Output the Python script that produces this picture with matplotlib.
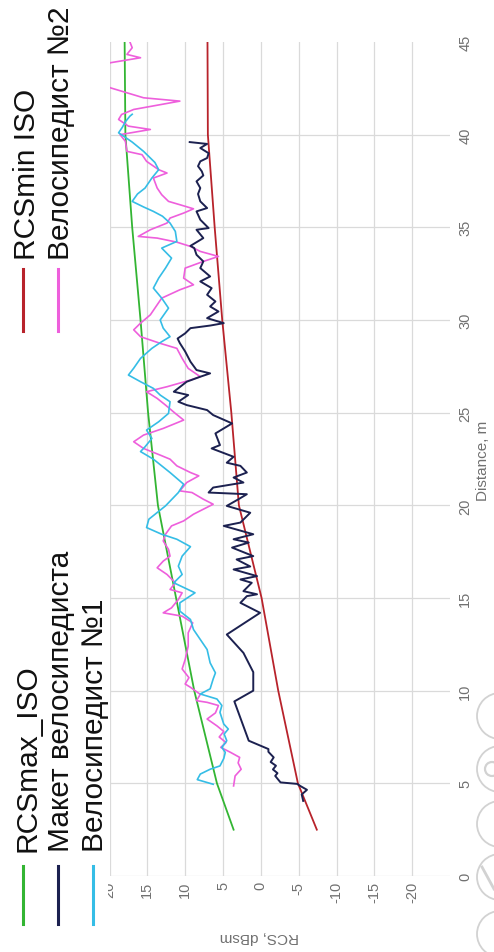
import matplotlib
matplotlib.use("Agg")
import matplotlib.pyplot as plt
from matplotlib.lines import Line2D
from matplotlib.patches import Circle
from matplotlib.transforms import Bbox, IdentityTransform

plt.rcParams['font.family'] = ['Liberation Sans', 'DejaVu Sans']

# ---------------------------------------------------------------- data
iso_dist = [2.5, 5, 10, 15, 20, 25, 30, 35, 40, 45]
rcs_max_iso = [3.6, 5.8, 8.8, 11.2, 13.6, 14.9, 15.9, 17.0, 17.9, 18.0]
rcs_min_iso = [-7.4, -4.9, -2.3, -0.1, 2.9, 3.9, 5.1, 6.1, 7.0, 7.05]

maket_dist = [4.05, 4.4, 4.65, 4.86, 4.97, 5.05, 5.4, 5.55, 5.75, 5.95, 6.15, 6.4,
              6.7, 6.85, 7.3, 9.42, 10.0, 11.0, 12.04, 13.03, 14.2, 14.74, 15.1,
              15.2, 15.37, 15.82, 16.0, 16.18, 16.54, 16.7, 17.08, 17.26, 17.72,
              17.99, 18.17, 18.44, 18.89, 19.07, 19.6, 19.97, 20.33, 20.6, 20.69,
              20.96, 21.23, 21.5, 21.77, 22.13, 22.3, 22.62, 23.07, 23.25, 23.88,
              24.42, 24.87, 25.14, 25.41, 25.59, 25.95, 26.13, 26.67, 26.94,
              27.12, 27.3, 27.75, 28.3, 28.75, 29.0, 29.28, 29.56, 29.7, 29.83,
              30.1, 30.46, 30.73, 31.0, 31.36, 31.72, 32.08, 32.35, 32.8, 33.16,
              33.52, 33.88, 34.0, 34.42, 34.87, 34.96, 35.41, 35.86, 36.04, 36.4,
              36.8, 37.12, 37.48, 37.8, 38.02, 38.3, 38.56, 38.74, 39.0, 39.28,
              39.5, 39.6]
maket_rcs = [-5.6, -5.4, -6.1, -5.2, -4.8, -2.6, -1.9, -2.2, -1.6, -2.0, -1.3, -1.7,
             -1.0, -1.0, 1.6, 3.5, 1.0, 1.0, 2.3, 4.5, 0.1, 2.7, 1.85,
             0.5, 2.3, 1.2, 2.7, 0.5, 3.6, 1.4, 3.2, 1.0, 3.8,
             1.6, 3.6, 1.0, 4.9, 2.7, 1.4, 4.5, 2.95, 1.85, 6.9,
             6.3, 2.3, 3.6, 1.85, 2.7, 4.5, 3.6, 6.5, 5.4, 6.0,
             3.8, 6.3, 7.1, 9.8, 10.9, 9.6, 11.5, 9.8, 8.0,
             6.7, 8.5, 9.3, 10.0, 10.7, 11.0, 10.0, 9.3, 6.7, 4.9,
             7.1, 5.6, 6.7, 6.0, 7.1, 6.5, 8.0, 6.7, 8.0, 7.6,
             8.5, 8.8, 9.3, 7.6, 8.5, 6.9, 8.0, 8.5, 7.1, 8.0,
             8.3, 8.0, 8.5, 7.6, 7.8, 8.3, 8.0, 7.1, 6.9, 8.0,
             7.1, 9.4]

cyclist1_dist = [4.95, 5.2, 5.5, 5.76, 5.94, 6.34, 6.67, 6.94, 7.3, 7.66, 7.93, 8.2,
                 8.83, 9.2, 9.55, 9.82, 10.1, 10.63, 10.96, 11.5, 12.22, 12.76,
                 13.3, 13.84, 14.29, 14.74, 15.28, 15.82, 16.27, 16.72, 17.26,
                 17.77, 18.17, 18.44, 18.8, 19.25, 19.97, 20.69, 21.14, 21.77,
                 22.49, 22.9, 23.16, 23.61, 24.06, 24.51, 24.96, 25.59, 25.95,
                 26.31, 26.67, 27.03, 27.4, 27.93, 28.47, 28.83, 29.1, 29.56,
                 30.0, 30.64, 31.18, 31.72, 32.26, 32.8, 33.34, 33.88, 34.24,
                 34.78, 35.23, 35.6, 35.86, 36.1, 36.4, 36.8, 37.12, 37.66,
                 38.11, 38.5, 39.1, 39.6, 39.91, 40.1, 40.4, 40.7, 41.0, 41.1]
cyclist1_rcs = [6.3, 8.4, 8.0, 6.7, 5.4, 4.9, 4.7, 5.15, 4.5, 4.85, 4.3, 4.9,
                5.4, 5.15, 5.8, 8.0, 6.7, 6.3, 6.0, 6.7, 7.1, 8.0,
                8.9, 9.3, 10.7, 10.7, 8.7, 11.5, 10.4, 10.9, 10.4,
                9.3, 11.1, 13.1, 15.1, 14.8, 12.6, 10.9, 10.2, 12.0,
                14.2, 15.9, 15.3, 14.4, 15.1, 13.5, 12.2, 12.0, 13.3,
                14.2, 15.9, 17.5, 16.8, 15.9, 14.4, 13.1, 12.0, 12.9,
                13.3, 12.2, 13.1, 14.2, 13.5, 12.6, 11.8, 13.1, 11.1,
                11.3, 12.0, 13.0, 14.2, 15.5, 17.0, 16.3, 15.3, 14.4,
                13.5, 14.0, 15.5, 17.0, 18.1, 18.8, 18.3, 17.9, 17.3, 17.0]

cyclist2_dist = [4.86, 5.4, 5.76, 6.1, 6.4, 6.67, 6.94, 7.2, 7.5, 7.8, 8.1, 8.47,
                 8.8, 9.2, 9.37, 9.46, 9.8, 10.18, 10.36, 10.7, 11.17, 11.68,
                 12.4, 13.12, 13.66, 14.02, 14.2, 14.47, 14.92, 15.28, 15.46,
                 15.82, 16.27, 16.63, 16.99, 17.26, 17.62, 18.08, 18.44, 18.89,
                 19.16, 19.52, 19.79, 20.06, 20.33, 20.69, 20.78, 21.23, 21.59,
                 21.77, 22.13, 22.49, 22.71, 23.07, 23.43, 23.79, 24.15, 24.6,
                 24.96, 25.41, 25.77, 26.13, 26.4, 26.76, 26.94, 27.39, 27.93,
                 28.47, 28.74, 29.1, 29.47, 29.83, 30.28, 30.82, 31.18, 31.63,
                 31.9, 32.26, 32.8, 33.16, 33.43, 33.7, 33.97, 34.2, 34.42,
                 34.51, 34.87, 35.23, 35.5, 35.77, 36.0, 36.22, 36.4, 36.76,
                 37.12, 37.66, 37.93, 38.11, 38.56, 38.92, 39.1, 39.64, 40.0,
                 40.28, 40.46, 40.82, 41.09, 41.36, 41.81, 41.99, 42.53, 42.9,
                 43.5, 43.88, 44.15, 44.33, 44.69, 45.0]
cyclist2_rcs = [3.6, 3.4, 2.6, 3.0, 2.8, 4.0, 5.3, 4.6, 5.5, 4.9, 5.8, 7.1,
                6.0, 5.6, 7.1, 8.5, 8.0, 9.3, 10.0, 9.5, 10.4, 10.0,
                9.6, 9.6, 9.0, 10.4, 12.9, 11.8, 10.9, 10.4, 12.0,
                11.3, 12.4, 13.7, 12.9, 12.0, 12.2, 12.9, 12.6, 11.8,
                10.2, 8.9, 7.6, 6.3, 7.6, 9.1, 10.7, 9.8, 8.2,
                9.3, 11.1, 12.0, 13.3, 15.5, 16.8, 15.5, 12.9, 10.2,
                11.3, 12.6, 13.7, 15.1, 12.4, 9.3, 8.0, 9.6, 10.4,
                11.1, 13.3, 15.9, 16.8, 15.9, 14.6, 13.7, 13.1, 10.7,
                8.9, 10.2, 10.0, 7.6, 5.6, 8.0, 9.3, 11.1, 13.7,
                16.2, 14.6, 12.4, 12.0, 10.2, 8.9, 10.7, 12.2, 13.1,
                13.7, 14.2, 12.4, 13.5, 15.1, 15.7, 17.7, 17.9, 18.6,
                14.6, 17.5, 18.8, 18.4, 16.8, 10.7, 15.5, 19.9, 21.5,
                21.2, 19.9, 15.9, 17.7, 17.0, 17.3]

rcs_ticks = [20, 15, 10, 5, 0, -5, -10, -15, -20]
dist_ticks = [0, 5, 10, 15, 20, 25, 30, 35, 40, 45]

labels = ["RCSmax_ISO", "RCSmin ISO", "Макет велосипедиста",
          "Велосипедист №1", "Велосипедист №2"]
colors = {"max": "#33b533", "min": "#b8232b", "maket": "#1c2150",
          "c1": "#35bde6", "c2": "#ee5fdc"}

# ---------------------------------------------------------------- figure
W, H = 494, 953
fig = plt.figure(figsize=(W / 100, H / 100), dpi=100)
fig.patch.set_facecolor("white")


def fx(px):
    return px / W


def fy(py):
    return 1 - py / H


ax_left, ax_right, ax_top, ax_bottom = 109.5, 450, 43, 877
ax = fig.add_axes([fx(ax_left), fy(ax_bottom),
                   fx(ax_right - ax_left), (ax_bottom - ax_top) / H])

# RCS runs along the horizontal axis (larger values to the left),
# distance runs upward.
ax.plot(rcs_max_iso, iso_dist, color=colors["max"], lw=1.3, zorder=3)
ax.plot(rcs_min_iso, iso_dist, color=colors["min"], lw=1.3, zorder=3)
ax.plot(cyclist2_rcs, cyclist2_dist, color=colors["c2"], lw=1.2, zorder=4)
ax.plot(cyclist1_rcs, cyclist1_dist, color=colors["c1"], lw=1.2, zorder=5)
ax.plot(maket_rcs, maket_dist, color=colors["maket"], lw=1.4, zorder=6)

ax.set_xlim(20.0, -25.0)
ax.set_ylim(0, 45)
ax.set_xticks(rcs_ticks)
ax.set_xticklabels([str(t) for t in rcs_ticks])
ax.set_yticks(dist_ticks)
ax.set_yticklabels([str(t) for t in dist_ticks])
ax.yaxis.tick_right()
for s in ax.spines.values():
    s.set_visible(False)
ax.grid(True, color="#dadada", lw=0.9)
ax.set_axisbelow(True)
ax.get_ygridlines()[-1].set_visible(False)

ax.tick_params(axis="x", length=0, pad=3.5, labelsize=10.5,
               labelcolor="#707070", labelrotation=90)
ax.tick_params(axis="y", length=0, pad=6, labelsize=10.5,
               labelcolor="#707070", labelrotation=90)
for lab in ax.get_yticklabels():
    lab.set_verticalalignment("center")

clip = Bbox.from_extents(108, 0, W, H)
for lab in ax.get_xticklabels():
    lab.set_clip_box(clip)
    lab.set_clip_on(True)

# axis titles
fig.text(fx(483), fy(461), "Distance, m", rotation=90, ha="center",
         va="center", fontsize=11, color="#707070")
fig.text(fx(259), fy(937), "RCS, dBsm", rotation=180, ha="center",
         va="center", fontsize=11, color="#707070")

# ---------------------------------------------------------------- legend
legend_items = [
    (23, 35, 867, 925, 852, colors["max"], labels[0]),
    (58, 69, 867, 925, 852, colors["maket"], labels[2]),
    (93, 103, 867, 925, 852, colors["c1"], labels[3]),
    (23, 35, 270, 332, 260, colors["min"], labels[1]),
    (58, 69, 270, 332, 260, colors["c2"], labels[4]),
]
for lx, tx, y0, y1, ty, col, txt in legend_items:
    fig.add_artist(Line2D([fx(lx), fx(lx)], [fy(y0), fy(y1)],
                          transform=fig.transFigure, color=col, lw=2.2))
    fig.text(fx(tx), fy(ty), txt, rotation=90, rotation_mode="anchor",
             ha="left", va="baseline", fontsize=21.5, color="#111111")

# round toolbar buttons along the lower right edge (pixel coordinates)
px = IdentityTransform()
for cy in [717, 770, 825, 878, 935]:
    fig.add_artist(Circle((500, H - cy), 23, transform=px,
                          fill=False, ec="#d2d2d2", lw=1.3))
fig.add_artist(Circle((492, H - 770), 7, transform=px,
                      fill=False, ec="#d2d2d2", lw=1.6))
fig.add_artist(Line2D([482, 494], [H - 868, H - 890], transform=px,
                      color="#d2d2d2", lw=2.0))

fig.savefig("out.png", dpi=100, facecolor="white")
